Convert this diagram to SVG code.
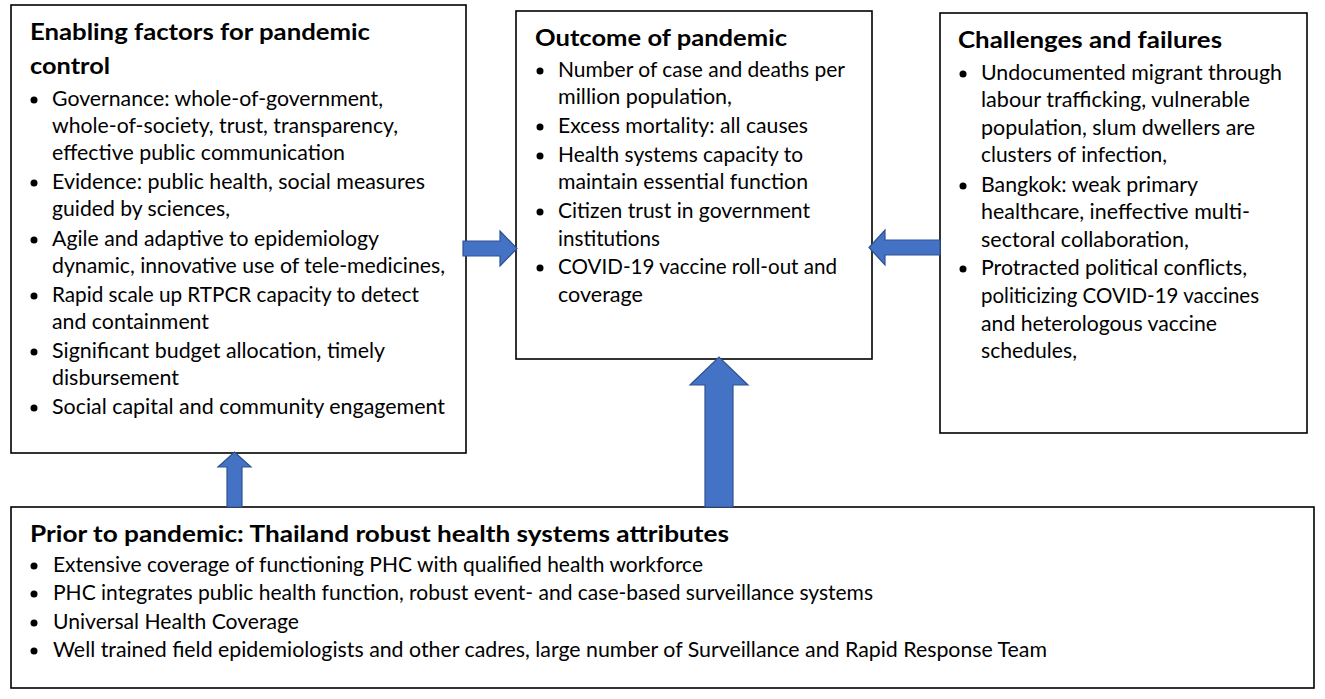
<svg xmlns="http://www.w3.org/2000/svg" width="1325" height="699" viewBox="0 0 1325 699">
<style>
.box{fill:#ffffff;stroke:#000000;stroke-width:1.6}
.h{font-family:Lato,"Liberation Sans",sans-serif;font-weight:bold;font-size:23px;fill:#000}
.t{font-family:Lato,"Liberation Sans",sans-serif;font-size:21px;fill:#000}
.b{fill:#000}
.arr{fill:#4472C4;stroke:#2F528F;stroke-width:1.2;stroke-linejoin:miter}
</style>
<rect width="1325" height="699" fill="#ffffff"/>

<g id="enabling">
<rect class="box" x="11" y="5" width="455" height="448"/>
<text class="h" x="30" y="40" textLength="340" lengthAdjust="spacingAndGlyphs">Enabling factors for pandemic</text>
<text class="h" x="30" y="74" textLength="80" lengthAdjust="spacingAndGlyphs">control</text>
<circle class="b" cx="34" cy="100" r="3.5"/>
<text class="t" x="52" y="106" textLength="331" lengthAdjust="spacingAndGlyphs">Governance: whole-of-government,</text>
<text class="t" x="52" y="133" textLength="346" lengthAdjust="spacingAndGlyphs">whole-of-society, trust, transparency,</text>
<text class="t" x="52" y="160" textLength="293" lengthAdjust="spacingAndGlyphs">effective public communication</text>
<circle class="b" cx="34" cy="183" r="3.5"/>
<text class="t" x="52" y="189" textLength="373" lengthAdjust="spacingAndGlyphs">Evidence: public health, social measures</text>
<text class="t" x="52" y="216" textLength="178" lengthAdjust="spacingAndGlyphs">guided by sciences,</text>
<circle class="b" cx="34" cy="240" r="3.5"/>
<text class="t" x="52" y="246" textLength="327" lengthAdjust="spacingAndGlyphs">Agile and adaptive to epidemiology</text>
<text class="t" x="52" y="273" textLength="393" lengthAdjust="spacingAndGlyphs">dynamic, innovative use of tele-medicines,</text>
<circle class="b" cx="34" cy="296" r="3.5"/>
<text class="t" x="52" y="302" textLength="367" lengthAdjust="spacingAndGlyphs">Rapid scale up RTPCR capacity to detect</text>
<text class="t" x="52" y="329" textLength="157" lengthAdjust="spacingAndGlyphs">and containment</text>
<circle class="b" cx="34" cy="352" r="3.5"/>
<text class="t" x="52" y="358" textLength="333" lengthAdjust="spacingAndGlyphs">Significant budget allocation, timely</text>
<text class="t" x="52" y="385" textLength="127" lengthAdjust="spacingAndGlyphs">disbursement</text>
<circle class="b" cx="34" cy="408" r="3.5"/>
<text class="t" x="52" y="414" textLength="393" lengthAdjust="spacingAndGlyphs">Social capital and community engagement</text>
</g>

<g id="outcome">
<rect class="box" x="516" y="11" width="356" height="348"/>
<text class="h" x="535" y="46" textLength="252" lengthAdjust="spacingAndGlyphs">Outcome of pandemic</text>
<circle class="b" cx="540" cy="71" r="3.5"/>
<text class="t" x="558" y="77" textLength="287" lengthAdjust="spacingAndGlyphs">Number of case and deaths per</text>
<text class="t" x="558" y="104" textLength="174" lengthAdjust="spacingAndGlyphs">million population,</text>
<circle class="b" cx="540" cy="127" r="3.5"/>
<text class="t" x="558" y="133" textLength="250" lengthAdjust="spacingAndGlyphs">Excess mortality: all causes</text>
<circle class="b" cx="540" cy="156" r="3.5"/>
<text class="t" x="558" y="162" textLength="245" lengthAdjust="spacingAndGlyphs">Health systems capacity to</text>
<text class="t" x="558" y="189" textLength="250" lengthAdjust="spacingAndGlyphs">maintain essential function</text>
<circle class="b" cx="540" cy="212" r="3.5"/>
<text class="t" x="558" y="218" textLength="252" lengthAdjust="spacingAndGlyphs">Citizen trust in government</text>
<text class="t" x="558" y="246" textLength="102" lengthAdjust="spacingAndGlyphs">institutions</text>
<circle class="b" cx="540" cy="268" r="3.5"/>
<text class="t" x="558" y="274" textLength="279" lengthAdjust="spacingAndGlyphs">COVID-19 vaccine roll-out and</text>
<text class="t" x="558" y="302" textLength="85" lengthAdjust="spacingAndGlyphs">coverage</text>
</g>

<g id="challenges">
<rect class="box" x="940" y="13" width="367" height="420"/>
<text class="h" x="958" y="48" textLength="264" lengthAdjust="spacingAndGlyphs">Challenges and failures</text>
<circle class="b" cx="963" cy="74" r="3.5"/>
<text class="t" x="981" y="80" textLength="301" lengthAdjust="spacingAndGlyphs">Undocumented migrant through</text>
<text class="t" x="981" y="107" textLength="269" lengthAdjust="spacingAndGlyphs">labour trafficking, vulnerable</text>
<text class="t" x="981" y="135" textLength="274" lengthAdjust="spacingAndGlyphs">population, slum dwellers are</text>
<text class="t" x="981" y="162" textLength="186" lengthAdjust="spacingAndGlyphs">clusters of infection,</text>
<circle class="b" cx="963" cy="186" r="3.5"/>
<text class="t" x="981" y="192" textLength="217" lengthAdjust="spacingAndGlyphs">Bangkok: weak primary</text>
<text class="t" x="981" y="219" textLength="269" lengthAdjust="spacingAndGlyphs">healthcare, ineffective multi-</text>
<text class="t" x="981" y="247" textLength="208" lengthAdjust="spacingAndGlyphs">sectoral collaboration,</text>
<circle class="b" cx="963" cy="269" r="3.5"/>
<text class="t" x="981" y="275" textLength="266" lengthAdjust="spacingAndGlyphs">Protracted political conflicts,</text>
<text class="t" x="981" y="303" textLength="278" lengthAdjust="spacingAndGlyphs">politicizing COVID-19 vaccines</text>
<text class="t" x="981" y="331" textLength="236" lengthAdjust="spacingAndGlyphs">and heterologous vaccine</text>
<text class="t" x="981" y="358" textLength="96" lengthAdjust="spacingAndGlyphs">schedules,</text>
</g>

<g id="prior">
<rect class="box" x="11" y="507" width="1303" height="181"/>
<text class="h" x="30" y="542" textLength="699" lengthAdjust="spacingAndGlyphs">Prior to pandemic: Thailand robust health systems attributes</text>
<circle class="b" cx="34" cy="566" r="3.5"/>
<text class="t" x="53" y="572" textLength="650" lengthAdjust="spacingAndGlyphs">Extensive coverage of functioning PHC with qualified health workforce</text>
<circle class="b" cx="34" cy="594" r="3.5"/>
<text class="t" x="53" y="600" textLength="820" lengthAdjust="spacingAndGlyphs">PHC integrates public health function, robust event- and case-based surveillance systems</text>
<circle class="b" cx="34" cy="623" r="3.5"/>
<text class="t" x="53" y="629" textLength="246" lengthAdjust="spacingAndGlyphs">Universal Health Coverage</text>
<circle class="b" cx="34" cy="651" r="3.5"/>
<text class="t" x="53" y="657" textLength="994" lengthAdjust="spacingAndGlyphs">Well trained field epidemiologists and other cadres, large number of Surveillance and Rapid Response Team</text>
</g>

<g id="connectors">
<path class="arr" d="M463,241 H500 V231 L517,248.5 L500,266 V256 H463 Z"/>
<path class="arr" d="M940,240 H885 V230 L869,247.5 L885,265 V255 H940 Z"/>
<path class="arr" d="M227,507 V467 H218 L234.5,452 L251,467 H242 V507 Z"/>
<path class="arr" d="M705,507 V385 H690 L719,357 L748,385 H733 V507 Z"/>
</g>
</svg>
